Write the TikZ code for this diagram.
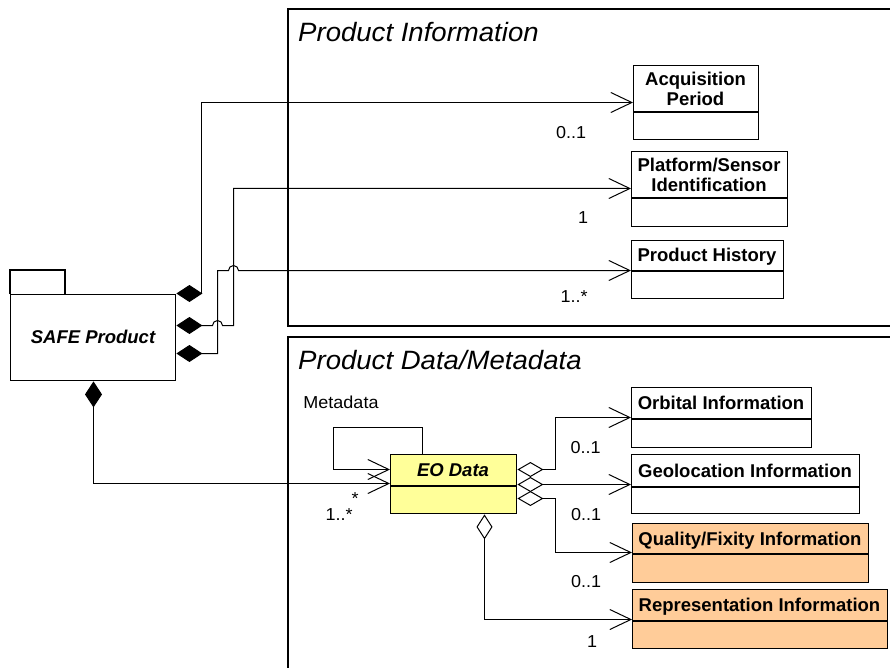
\documentclass[tikz,border=0pt]{standalone}
\usepackage{fontspec}
\setmainfont{Liberation Sans}
\newfontfamily\titlefont[FakeStretch=1.04]{Liberation Sans}
\newfontfamily\boxfont{Liberation Sans}
\newfontfamily\labelfont[FakeStretch=1.04]{Liberation Sans}
\usetikzlibrary{arrows.meta}
\definecolor{eoyellow}{HTML}{FFFF99}
\definecolor{peach}{HTML}{FFCC99}

\begin{document}
\begin{tikzpicture}[x=1pt,y=-1pt,
  frameline/.style={line width=1.4pt},
  clsbox/.style={draw, line width=1.4pt, inner sep=0pt, anchor=north west},
  divider/.style={line width=1.4pt},
  clsname/.style={inner sep=0pt, align=center, font=\boxfont\bfseries\fontsize{18.5}{20}\selectfont},
  absname/.style={inner sep=0pt, font=\boxfont\bfseries\itshape\fontsize{18.5}{20}\selectfont},
  pkgtitle/.style={inner sep=0pt, anchor=base west, font=\titlefont\itshape\fontsize{26.5}{30}\selectfont},
  mult/.style={inner sep=0pt, anchor=base, font=\labelfont\fontsize{17.3}{20}\selectfont},
  conn/.style={line width=1pt},
  nav/.style={conn, -{Straight Barb[length=21pt,width=20pt]}},
  compo/.style={conn, {Diamond[length=26pt,width=17pt]}-{Straight Barb[length=21pt,width=20pt]}},
  aggr/.style={conn, {Diamond[open,length=26pt,width=15pt]}-{Straight Barb[length=21pt,width=20pt]}},
]
\useasboundingbox (0,0) rectangle (890,668);

% package frames, open to the right
\draw[frameline] (892,9) -- (288,9) -- (288,326) -- (892,326);
\draw[frameline] (892,337) -- (288,337) -- (288,670);
\node[pkgtitle] (pinfo) at (298,41.7) {Product Information};
\node[pkgtitle] (pdata) at (298,369.7) {Product Data/Metadata};

% SAFE Product package
\draw[line width=1.4pt] (10,294) -- (10,270) -- (65,270) -- (65,294);
\node[clsbox, minimum width=165pt, minimum height=86pt] (safe) at (10,294) {};
\node[absname, anchor=base] (safename) at (93,343.3) {SAFE Product};

% classes of the product information package
\node[clsbox, minimum width=125pt, minimum height=74pt] (acq) at (633,65) {};
\draw[divider] (acq.west |- 0,112) -- (acq.east |- 0,112);
\node[clsname] (acqname) at (695.5,88.5) {Acquisition\\Period};

\node[clsbox, minimum width=156pt, minimum height=75pt] (plat) at (631,151) {};
\draw[divider] (plat.west |- 0,198) -- (plat.east |- 0,198);
\node[clsname] (platname) at (709,175) {Platform/Sensor\\Identification};

\node[clsbox, minimum width=152pt, minimum height=58pt] (hist) at (631,240) {};
\draw[divider] (hist.west |- 0,271) -- (hist.east |- 0,271);
\node[clsname, anchor=base] (histname) at (707,261.5) {Product History};

% classes of the product data/metadata package
\node[clsbox, fill=eoyellow, minimum width=126pt, minimum height=59pt] (eo) at (390,454) {};
\draw[divider] (eo.west |- 0,486) -- (eo.east |- 0,486);
\node[absname, anchor=base] (eoname) at (453,476) {EO Data};

\node[clsbox, minimum width=180pt, minimum height=60pt] (orb) at (631,387) {};
\draw[divider] (orb.west |- 0,419) -- (orb.east |- 0,419);
\node[clsname, anchor=base] (orbname) at (721,409) {Orbital Information};

\node[clsbox, minimum width=228pt, minimum height=59pt] (geo) at (631,454) {};
\draw[divider] (geo.west |- 0,487) -- (geo.east |- 0,487);
\node[clsname, anchor=base] (geoname) at (745,477) {Geolocation Information};

\node[clsbox, fill=peach, minimum width=236pt, minimum height=59pt] (qual) at (632,523) {};
\draw[divider] (qual.west |- 0,554) -- (qual.east |- 0,554);
\node[clsname, anchor=base] (qualname) at (750,545) {Quality/Fixity Information};

\node[clsbox, fill=peach, minimum width=255pt, minimum height=59pt] (rep) at (632,589) {};
\draw[divider] (rep.west |- 0,621) -- (rep.east |- 0,621);
\node[clsname, anchor=base] (repname) at (759.5,611.5) {Representation Information};

% compositions from SAFE Product (half-unit offsets keep 1pt lines crisp)
\draw[compo] (safe.east |- 0,293.5) -- (201.5,293.5) -- (201.5,102.5) -- (acq.west |- 0,102.5);
\draw[compo] (safe.east |- 0,325.5) -- (212.5,325.5) arc[start angle=180, end angle=0, radius=5pt]
  -- (233.5,325.5) -- (233.5,188.5) -- (plat.west |- 0,188.5);
\draw[compo] (safe.east |- 0,353.5) -- (217.5,353.5) -- (217.5,270.5) -- (228.5,270.5)
  arc[start angle=180, end angle=0, radius=5pt] -- (hist.west |- 0,270.5);
\draw[compo] (safe.south -| 93.5,0) -- (93.5,483.5) -- (eo.west |- 0,483.5);

% recursive metadata association
\draw[nav] (eo.north -| 422.5,0) -- (422.5,427.5) -- (333.5,427.5) -- (333.5,469.5) -- (eo.west |- 0,469.5);

% aggregations of EO Data
\draw[aggr] (eo.east |- 0,469.5) -- (555.5,469.5) -- (555.5,417.5) -- (orb.west |- 0,417.5);
\draw[aggr] (eo.east |- 0,484.5) -- (geo.west |- 0,484.5);
\draw[aggr] (eo.east |- 0,498.5) -- (555.5,498.5) -- (555.5,552.5) -- (qual.west |- 0,552.5);
\draw[conn, {Diamond[open,length=25pt,width=16pt]}-{Straight Barb[length=21pt,width=20pt]}]
  (eo.south -| 484.5,0) -- (484.5,619.5) -- (rep.west |- 0,619.5);

% multiplicities and role name
\node[mult] (macq) at (571,139) {0..1};
\node[mult] (mplat) at (583,223) {1};
\node[mult] (mhist) at (574,302.5) {1..*};
\node[mult] (morb) at (585.5,453) {0..1};
\node[mult] (mgeo) at (586,520) {0..1};
\node[mult] (mqual) at (586,587) {0..1};
\node[mult] (mrep) at (592,647) {1};
\node[mult] (mmeta) at (355,504) {*};
\node[mult] (meo) at (339,520) {1..*};
\node[mult] (metaname) at (341,408) {Metadata};
\end{tikzpicture}
\end{document}
